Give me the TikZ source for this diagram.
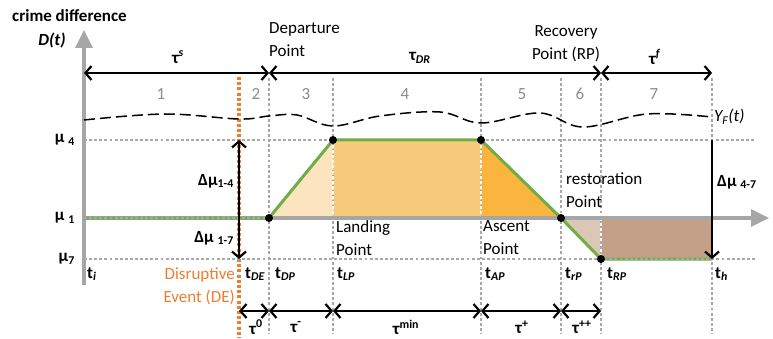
\documentclass[tikz,border=0pt]{standalone}
\usepackage{fontspec}
\setmainfont{Carlito}
\usetikzlibrary{arrows.meta}
\definecolor{axisgray}{HTML}{A6A6A6}
\definecolor{dotgray}{HTML}{A8A8A8}
\definecolor{numgray}{HTML}{8C8C8C}
\definecolor{lgreen}{HTML}{70AD47}
\definecolor{deorange}{HTML}{ED7D31}
\definecolor{fillA}{HTML}{FCE4BF}
\definecolor{fillB}{HTML}{F7CA7C}
\definecolor{fillC}{HTML}{FBB43E}
\definecolor{fillD}{HTML}{DCC7B6}
\definecolor{fillE}{HTML}{C4A089}
\begin{document}
\begin{tikzpicture}[x=1pt,y=-1pt,
  font=\fontsize{17}{23}\selectfont,
  every node/.style={inner sep=1pt},
  gdot/.style={draw=dotgray, line width=2.9pt, dash pattern=on 2.9pt off 2.2pt},
  wdot/.style={draw=white, line width=2.2pt, dash pattern=on 2.9pt off 2.2pt},
  axisline/.style={draw=axisgray, line width=3.4pt, -{Triangle[length=18pt,width=17pt]}},
  dimboth/.style={draw=black, line width=2.2pt, {Straight Barb[length=6pt,width=14pt]}-{Straight Barb[length=6pt,width=14pt]}},
  dimend/.style={draw=black, line width=2.2pt, -{Straight Barb[length=6pt,width=14pt]}},
  curve/.style={draw=lgreen, line width=3pt, line join=round},
  dot/.style={circle, fill=black, inner sep=0pt, minimum size=8pt},
  num/.style={text=numgray},
  lbl/.style={align=left, anchor=north west}
]
\useasboundingbox (0,0) rectangle (773,339);
% key coordinates
\coordinate (pDP) at (269,218);
\coordinate (pLP) at (333,140);
\coordinate (pAP) at (481,140);
\coordinate (prP) at (561,218);
\coordinate (pRP) at (601,259);
\coordinate (pH)  at (712,259);
\coordinate (bLP) at (333,218);
\coordinate (bAP) at (481,218);
\coordinate (bRP) at (601,218);
\coordinate (bH)  at (712,218);
\coordinate (tH)  at (712,140);
% fills
\fill[fillA] (pDP) -- (pLP) -- (bLP) -- cycle;
\fill[fillB] (pLP) -- (pAP) -- (bAP) -- (bLP) -- cycle;
\fill[fillC] (pAP) -- (prP) -- (bAP) -- cycle;
\fill[fillD] (prP) -- (pRP) -- (bRP) -- cycle;
\fill[fillE] (bRP) rectangle (pH);
% horizontal dotted lines
\coordinate (m4a) at (84,140); \coordinate (m4b) at (755,140);
\coordinate (m7a) at (84,259); \coordinate (m7b) at (755,259);
\draw[gdot] (m4a) -- (pLP);
\draw[gdot] (pAP) -- (m4b);
% vertical dotted lines
\foreach \xx/\nm in {269/DP,333/LP,481/AP,561/rP,601/RP,712/H}{
  \coordinate (v\nm t) at (\xx,78);
  \coordinate (v\nm b) at (\xx,334);
  \draw[gdot] (v\nm t) -- (v\nm b);
}
\draw[wdot] (pLP) -- (bLP);
\draw[wdot] (pAP) -- (bAP);
\draw[wdot] (bRP) -- (pRP);
% orange DE line
\coordinate (deT) at (239,77); \coordinate (deB) at (239,338);
\draw[draw=deorange, line width=3.1pt, dash pattern=on 3pt off 2.2pt] (deT) -- (deB);
% axes
\coordinate (yB) at (84,285); \coordinate (yT) at (84,30);
\coordinate (xB) at (84,218); \coordinate (xT) at (769,218);
\draw[axisline] (yB) -- (yT);
\draw[axisline] (xB) -- (xT);
% curve
\draw[curve] (xB) -- (pDP) -- (pLP) -- (pAP) -- (prP) -- (pRP) -- (pH);
\draw[gdot] (xB) -- (pDP);
\draw[gdot] (m7a) -- (m7b);
% dots
\node[dot] (dDP) at (pDP) {};
\node[dot] (dLP) at (pLP) {};
\node[dot] (dAP) at (pAP) {};
\node[dot] (drP) at (prP) {};
\node[dot] (dRP) at (pRP) {};
% dashed Y_F curve
\draw[black, line width=1.5pt, dash pattern=on 11pt off 5pt] plot[smooth, tension=0.6] coordinates {
 (84,120) (165,114) (239,119) (269,116) (297,115) (333,126) (380,116) (440,112) (481,123) (540,113) (583,127) (647,114) (712,117)};
\node[anchor=west] (yf) at (713,117) {\textit{Y\textsubscript{F}(t)}};
% top dimension arrows
\coordinate (a0) at (84,73); \coordinate (a1) at (269,73); \coordinate (a2) at (601,73); \coordinate (a3) at (712,73);
\draw[dimboth] (a0) -- (a1);
\draw[dimboth] (a1) -- (a2);
\draw[dimboth] (a2) -- (a3);
\node (ts) at (178,57) {\textbf{τ\textsuperscript{\textit{s}}}};
\node (tdr) at (420,58) {\textbf{τ\textsubscript{\textit{DR}}}};
\node (tf) at (655,57) {\textbf{τ\textsuperscript{\textit{f}}}};
% bottom dimension arrows
\coordinate (b0) at (239,311); \coordinate (b1) at (269,311); \coordinate (b2) at (333,311);
\coordinate (b3) at (481,311); \coordinate (b4) at (561,311); \coordinate (b5) at (601,311);
\draw[dimboth] (b0) -- (b1);
\draw[dimboth] (b1) -- (b2);
\draw[dimboth] (b2) -- (b3);
\draw[dimboth] (b3) -- (b4);
\draw[dimboth] (b4) -- (b5);
\node (u0) at (256,327) {\textbf{τ\textsuperscript{0}}};
\node (u1) at (296,327) {\textbf{τ\textsuperscript{-}}};
\node (u2) at (406,327) {\textbf{τ\textsuperscript{min}}};
\node (u3) at (522,327) {\textbf{τ\textsuperscript{+}}};
\node (u4) at (582,327) {\textbf{τ\textsuperscript{++}}};
% delta mu arrows
\coordinate (dmT) at (239,140); \coordinate (dmB) at (239,259);
\draw[dimboth] (dmT) -- (dmB);
\draw[dimend] (tH) -- (pH);
\node[anchor=east] (dm14) at (235,181) {\textbf{Δμ\textsubscript{1-4}}};
\node[anchor=east] (dm17) at (235,238) {\textbf{Δμ \textsubscript{1-7}}};
\node[anchor=west] (dm47) at (716,182) {\textbf{Δμ \textsubscript{4-7}}};
% axis labels
\node[anchor=west] (cd) at (11,16) {\textbf{crime difference}};
\node (dt) at (52,40) {\textbf{\textit{D(t)}}};
\node[anchor=east] (mu4) at (76,140) {\textbf{μ \textsubscript{4}}};
\node[anchor=east] (mu1) at (76,218) {\textbf{μ \textsubscript{1}}};
\node[anchor=east] (mu7) at (76,259) {\textbf{μ\textsubscript{7}}};
% t labels
\node[anchor=west] (ti) at (86,274) {\textbf{t\textsubscript{\textit{i}}}};
\node[anchor=west] (tde) at (244,274) {\textbf{t\textsubscript{\textit{DE}}}};
\node[anchor=west] (tdp) at (274,274) {\textbf{t\textsubscript{\textit{DP}}}};
\node[anchor=west] (tlp) at (336,274) {\textbf{t\textsubscript{\textit{LP}}}};
\node[anchor=west] (tap) at (484,274) {\textbf{t\textsubscript{\textit{AP}}}};
\node[anchor=west] (trp) at (564,274) {\textbf{t\textsubscript{\textit{rP}}}};
\node[anchor=west] (tRP) at (606,274) {\textbf{t\textsubscript{\textit{RP}}}};
\node[anchor=west] (th) at (714,274) {\textbf{t\textsubscript{\textit{h}}}};
\node[anchor=east, align=right, text=deorange] (de) at (236,286) {Disruptive\\Event (DE)};
% phase numbers
\node[num] (n1) at (161,94) {1};
\node[num] (n2) at (256,94) {2};
\node[num] (n3) at (306,94) {3};
\node[num] (n4) at (405,94) {4};
\node[num] (n5) at (522,94) {5};
\node[num] (n6) at (580,94) {6};
\node[num] (n7) at (654,94) {7};
% point labels
\node[lbl] (dep) at (268,21) {Departure\\Point};
\node[align=center] (rec) at (566,44) {Recovery\\Point (RP)};
\node[lbl] (land) at (335,219) {Landing\\Point};
\node[lbl] (asc) at (482,219) {Ascent\\Point};
\node[lbl] (rest) at (565,172) {restoration\\Point};
\end{tikzpicture}
\end{document}
